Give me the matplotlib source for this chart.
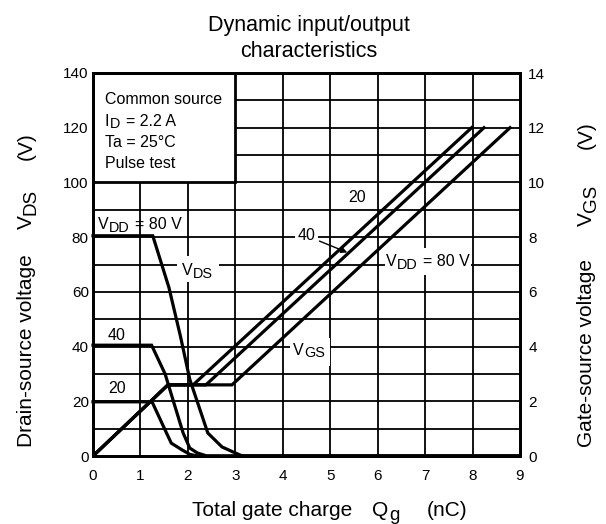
import matplotlib.pyplot as plt
import matplotlib.patches as patches
import matplotlib.transforms as mtransforms

plt.rcParams['font.family'] = ['Liberation Sans', 'DejaVu Sans']

# Drain-source voltage curves (left axis, V) vs total gate charge (nC)
vds80_q = [0, 1.26, 1.60, 1.84, 2.04, 2.42, 2.72, 3.00, 3.15, 9]
vds80_v = [80.5, 80.5, 61.6, 44.0, 28.0, 8.4, 3.3, 1.1, 0, 0]
vds40_q = [0, 1.235, 1.52, 1.70, 1.90, 2.04, 2.20, 2.40, 9]
vds40_v = [40.5, 40.5, 30.0, 19.7, 8.4, 2.9, 1.1, 0, 0]
vds20_q = [0, 1.245, 1.52, 1.65, 1.88, 2.04, 2.20, 9]
vds20_v = [19.8, 19.8, 9.5, 4.7, 2.2, 0.6, 0, 0]

# Gate-source voltage curves (right axis, V)
vgs20_q = [0, 1.58, 2.11, 7.98]
vgs20_v = [0, 2.6, 2.6, 12]
vgs40_q = [0, 1.58, 2.38, 8.24]
vgs40_v = [0, 2.6, 2.6, 12]
vgs80_q = [0, 1.58, 2.93, 8.79]
vgs80_v = [0, 2.6, 2.6, 12]

x_ticks = list(range(0, 10))
left_ticks = list(range(0, 141, 20))
right_ticks = list(range(0, 15, 2))

W, H, DPI = 606, 524, 100
fig = plt.figure(figsize=(W / DPI, H / DPI), dpi=DPI)
renderer = fig.canvas.get_renderer()


def gap(n, size):
    # width of n spaces in pixels
    return n * 0.278 * size * DPI / 72


def rich_text(owner, trans, x, y, parts, size, rotation=0, ha='left', zorder=5):
    """Draw text with near full-height, lowered subscripts.
    parts: list of (text, kind); kind 'n' normal, 's' subscript, 'g' gap (px)
    """
    items = []
    for s, kind in parts:
        if kind == 'g':
            items.append((None, s, 0, 0))
            continue
        fs = size * (0.9 if kind == 's' else 1.0)
        t = fig.text(0, 0, s, fontsize=fs)
        w = t.get_window_extent(renderer).width + 0.8
        t.remove()
        drop = 0.17 * size * DPI / 72 if kind == 's' else 0
        items.append((s, w, fs, drop))
    total = sum(it[1] for it in items)
    pos = {'left': 0, 'center': -total / 2, 'right': -total}[ha]
    for s, w, fs, drop in items:
        if s is not None:
            if rotation == 0:
                dx, dy = pos, -drop
            else:
                dx, dy = drop, pos
            tr = trans + mtransforms.ScaledTranslation(dx / DPI, dy / DPI,
                                                      fig.dpi_scale_trans)
            owner.text(x, y, s, transform=tr, fontsize=fs, rotation=rotation,
                       rotation_mode='anchor', ha='left', va='baseline',
                       zorder=zorder)
        pos += w


ax = fig.add_axes([93 / W, 1 - 456 / H, 427 / W, 383 / H])
ax.set_xlim(0, 9)
ax.set_ylim(0, 140)

# grid
for gx in range(1, 9):
    ax.plot([gx, gx], [0, 140], color='black', lw=1.3, zorder=1)
for gy in range(10, 140, 10):
    ax.plot([0, 9], [gy, gy], color='black', lw=1.3, zorder=1)

# info box in the upper-left corner
box = patches.Rectangle((0, 100), 3, 40, facecolor='white', edgecolor='black',
                        lw=2, zorder=2)
ax.add_patch(box)
fs_in = 11.5
ax.text(0.25, 128.5, 'Common source', fontsize=fs_in, va='baseline', zorder=3)
rich_text(ax, ax.transData, 0.25, 120.8,
          [('I', 'n'), ('D', 's'), (gap(1, fs_in), 'g'), ('= 2.2 A', 'n')], fs_in)
ax.text(0.25, 113.1, 'Ta = 25°C', fontsize=fs_in, va='baseline', zorder=3)
ax.text(0.25, 105.4, 'Pulse test', fontsize=fs_in, va='baseline', zorder=3)

# white patches that break the grid behind some labels
for x0, x1, y0, y1 in [(1.76, 2.66, 63.5, 73), (4.15, 5.0, 33, 43),
                       (6.15, 7.96, 66, 76)]:
    ax.add_patch(patches.Rectangle((x0, y0), x1 - x0, y1 - y0,
                                   facecolor='white', edgecolor='none', zorder=2))

lw = 2.3
for q, v in [(vds80_q, vds80_v), (vds40_q, vds40_v), (vds20_q, vds20_v)]:
    ax.plot(q, v, color='black', lw=lw, zorder=4, solid_joinstyle='miter',
            clip_on=False)

ax.set_xticks(x_ticks)
ax.set_yticks(left_ticks)
ax.tick_params(axis='y', length=0, labelsize=11, pad=3)
ax.tick_params(axis='x', length=0, labelsize=11, pad=9.5)
for s in ax.spines.values():
    s.set_linewidth(2.0)

ax2 = ax.twinx()
ax2.set_ylim(0, 14)
ax2.set_yticks(right_ticks)
ax2.tick_params(length=0, labelsize=11, pad=6)
for s in ax2.spines.values():
    s.set_linewidth(2.0)
for q, v in [(vgs20_q, vgs20_v), (vgs40_q, vgs40_v), (vgs80_q, vgs80_v)]:
    ax2.plot(q, v, color='black', lw=lw, zorder=4, solid_joinstyle='miter')

# curve labels
fs = 11.5
vdd = [('V', 'n'), ('DD', 's'), (gap(1, fs), 'g'), ('= 80 V', 'n')]
rich_text(ax, ax.transData, 0.1, 83, vdd, fs)
ax.text(0.5, 44, '40', fontsize=fs, ha='center', va='center', zorder=5)
ax.text(0.5, 24.5, '20', fontsize=fs, ha='center', va='center', zorder=5)
ax.text(5.56, 94.5, '20', fontsize=fs, ha='center', va='center', zorder=5)
rich_text(ax, ax.transData, 2.21, 66, [('V', 'n'), ('DS', 's')], fs, ha='center')
rich_text(ax, ax.transData, 4.57, 37, [('V', 'n'), ('GS', 's')], fs, ha='center')
rich_text(ax, ax.transData, 7.06, 69.5, vdd, fs, ha='center')
ax.annotate('40', xy=(5.36, 74.4), xytext=(4.5, 80.5), fontsize=fs,
            ha='center', va='center', zorder=5,
            bbox=dict(facecolor='white', edgecolor='none', pad=2),
            arrowprops=dict(arrowstyle='-|>', color='black', lw=1.0,
                            mutation_scale=9, shrinkA=1, shrinkB=0))

# titles and axis labels
fig.text(309 / W, 1 - 31.5 / H, 'Dynamic input/output', ha='center',
         va='baseline', fontsize=15.5)
fig.text(309 / W, 1 - 57 / H, 'characteristics', ha='center',
         va='baseline', fontsize=15.5)
fl = 15
rich_text(fig, fig.transFigure, 192 / W, 1 - 516 / H,
          [('Total gate charge', 'n'), (19, 'g'), ('Q', 'n'), ('g', 's'),
           (26, 'g'), ('(nC)', 'n')], fl)
rich_text(fig, fig.transFigure, 32 / W, 1 - 447 / H,
          [('Drain-source voltage', 'n'), (24, 'g'), ('V', 'n'), ('DS', 's'),
           (28, 'g'), ('(V)', 'n')], fl, rotation=90)
rich_text(fig, fig.transFigure, 592 / W, 1 - 447 / H,
          [('Gate-source voltage', 'n'), (32, 'g'), ('V', 'n'), ('GS', 's'),
           (34, 'g'), ('(V)', 'n')], fl, rotation=90)

fig.savefig('out.png', dpi=DPI)
